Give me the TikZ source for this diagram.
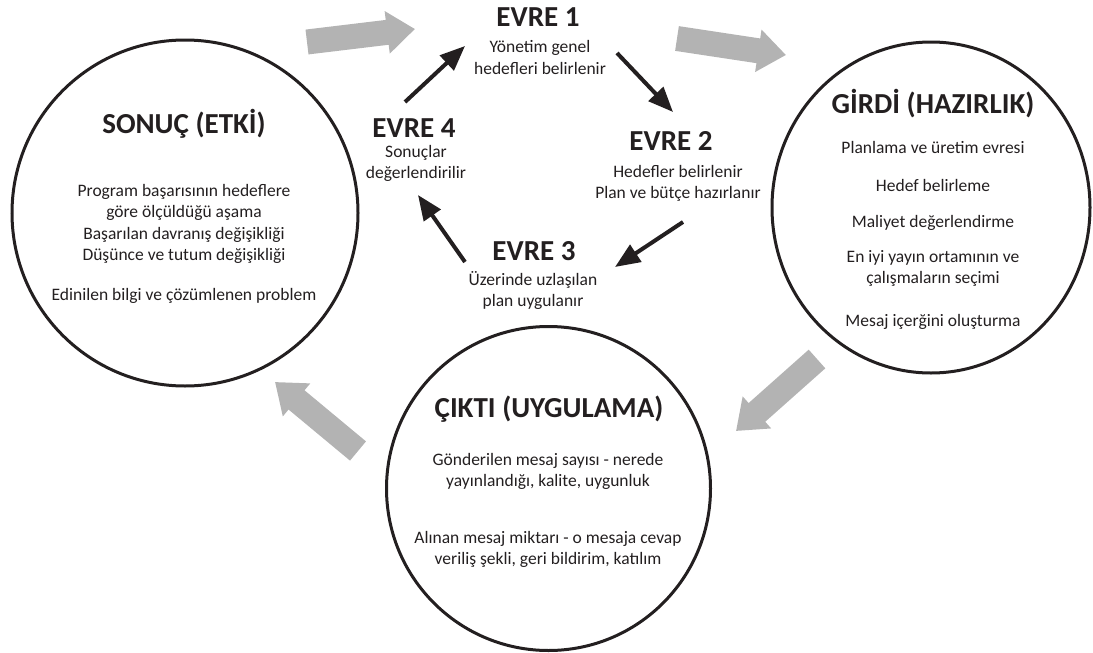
\documentclass[tikz,border=0pt]{standalone}
\usepackage{fontspec}
\setmainfont{Carlito}
\usetikzlibrary{arrows.meta,shapes.geometric}
\definecolor{ink}{RGB}{35,31,32}
\definecolor{arrowgray}{RGB}{179,179,179}
\begin{document}
\begin{tikzpicture}[x=1pt,y=-1pt,
  every node/.style={text=ink, inner sep=0pt},
  body/.style={font=\fontsize{17.5}{21}\selectfont, align=center, anchor=base},
  title/.style={font=\fontsize{29}{33}\selectfont\bfseries, anchor=base},
  ring/.style={draw=ink, line width=3pt},
  flow/.style={draw=ink, line width=4pt, -{Triangle[length=25pt,width=20pt]}},
  blockarrow/.style={draw=arrowgray, line width=25pt, -{Triangle[length=28pt,width=41pt]}}]
\useasboundingbox (0,0) rectangle (1093,653);

% circles
\node[ring, circle, minimum size=346pt] (sonuc) at (185,213) {};
\node[ring, ellipse, minimum width=318pt, minimum height=331pt] (girdi) at (931,207.5) {};
\node[ring, circle, minimum size=324pt] (cikti) at (548.5,488.5) {};

% circle titles
\node[title] (sonucT) at (184,133) {SONUÇ (ETKİ)};
\node[title] (girdiT) at (933,113) {GİRDİ (HAZIRLIK)};
\node[title] (ciktiT) at (549,417) {ÇIKTI (UYGULAMA)};

% circle texts (base = baseline of the last line)
\node[body] (s1) at (184,217) {Program başarısının hedeflere\\göre ölçüldüğü aşama};
\node[body] (s2) at (184,260) {Başarılan davranış değişikliği\\Düşünce ve tutum değişikliği};
\node[body] (s3) at (184,300) {Edinilen bilgi ve çözümlenen problem};

\node[body] (g1) at (933,153) {Planlama ve üretim evresi};
\node[body] (g2) at (933,191) {Hedef belirleme};
\node[body] (g3) at (933,227) {Maliyet değerlendirme};
\node[body] (g4) at (933,283) {En iyi yayın ortamının ve\\çalışmaların seçimi};
\node[body] (g5) at (933,326) {Mesaj içerğini oluşturma};

\node[body] (c1) at (548,486) {Gönderilen mesaj sayısı - nerede\\yayınlandığı, kalite, uygunluk};
\node[body] (c2) at (548,564) {Alınan mesaj miktarı - o mesaja cevap\\veriliş şekli, geri bildirim, katılım};

% phases
\node[title] (e1) at (538,27) {EVRE 1};
\node[body] (e1b) at (540,74) {Yönetim genel\\hedefleri belirlenir};
\node[title] (e2) at (671,150) {EVRE 2};
\node[body] (e2b) at (678,198) {Hedefler belirlenir\\Plan ve bütçe hazırlanır};
\node[title] (e3) at (534,260) {EVRE 3};
\node[body] (e3b) at (533,306) {Üzerinde uzlaşılan\\plan uygulanır};
\node[title] (e4) at (414,137) {EVRE 4};
\node[body] (e4b) at (416,178) {Sonuçlar\\değerlendirilir};

% black cycle arrows
\coordinate (a41s) at (405,102); \coordinate (a41e) at (465,46);
\coordinate (a12s) at (617,53);  \coordinate (a12e) at (673,112);
\coordinate (a23s) at (683,222); \coordinate (a23e) at (615,267);
\coordinate (a34s) at (465,262); \coordinate (a34e) at (418,195);
\draw[flow] (a41s) -- (a41e);
\draw[flow] (a12s) -- (a12e);
\draw[flow] (a23s) -- (a23e);
\draw[flow] (a34s) -- (a34e);

% gray block arrows
\coordinate (b1s) at (307,42);    \coordinate (b1e) at (415,29);
\coordinate (b2s) at (677,38.5);  \coordinate (b2e) at (786,55);
\coordinate (b3s) at (817,359);   \coordinate (b3e) at (736,431);
\coordinate (b4s) at (358,451);   \coordinate (b4e) at (275,382);
\draw[blockarrow] (b1s) -- (b1e);
\draw[blockarrow] (b2s) -- (b2e);
\draw[blockarrow] (b3s) -- (b3e);
\draw[blockarrow] (b4s) -- (b4e);
\end{tikzpicture}
\end{document}
